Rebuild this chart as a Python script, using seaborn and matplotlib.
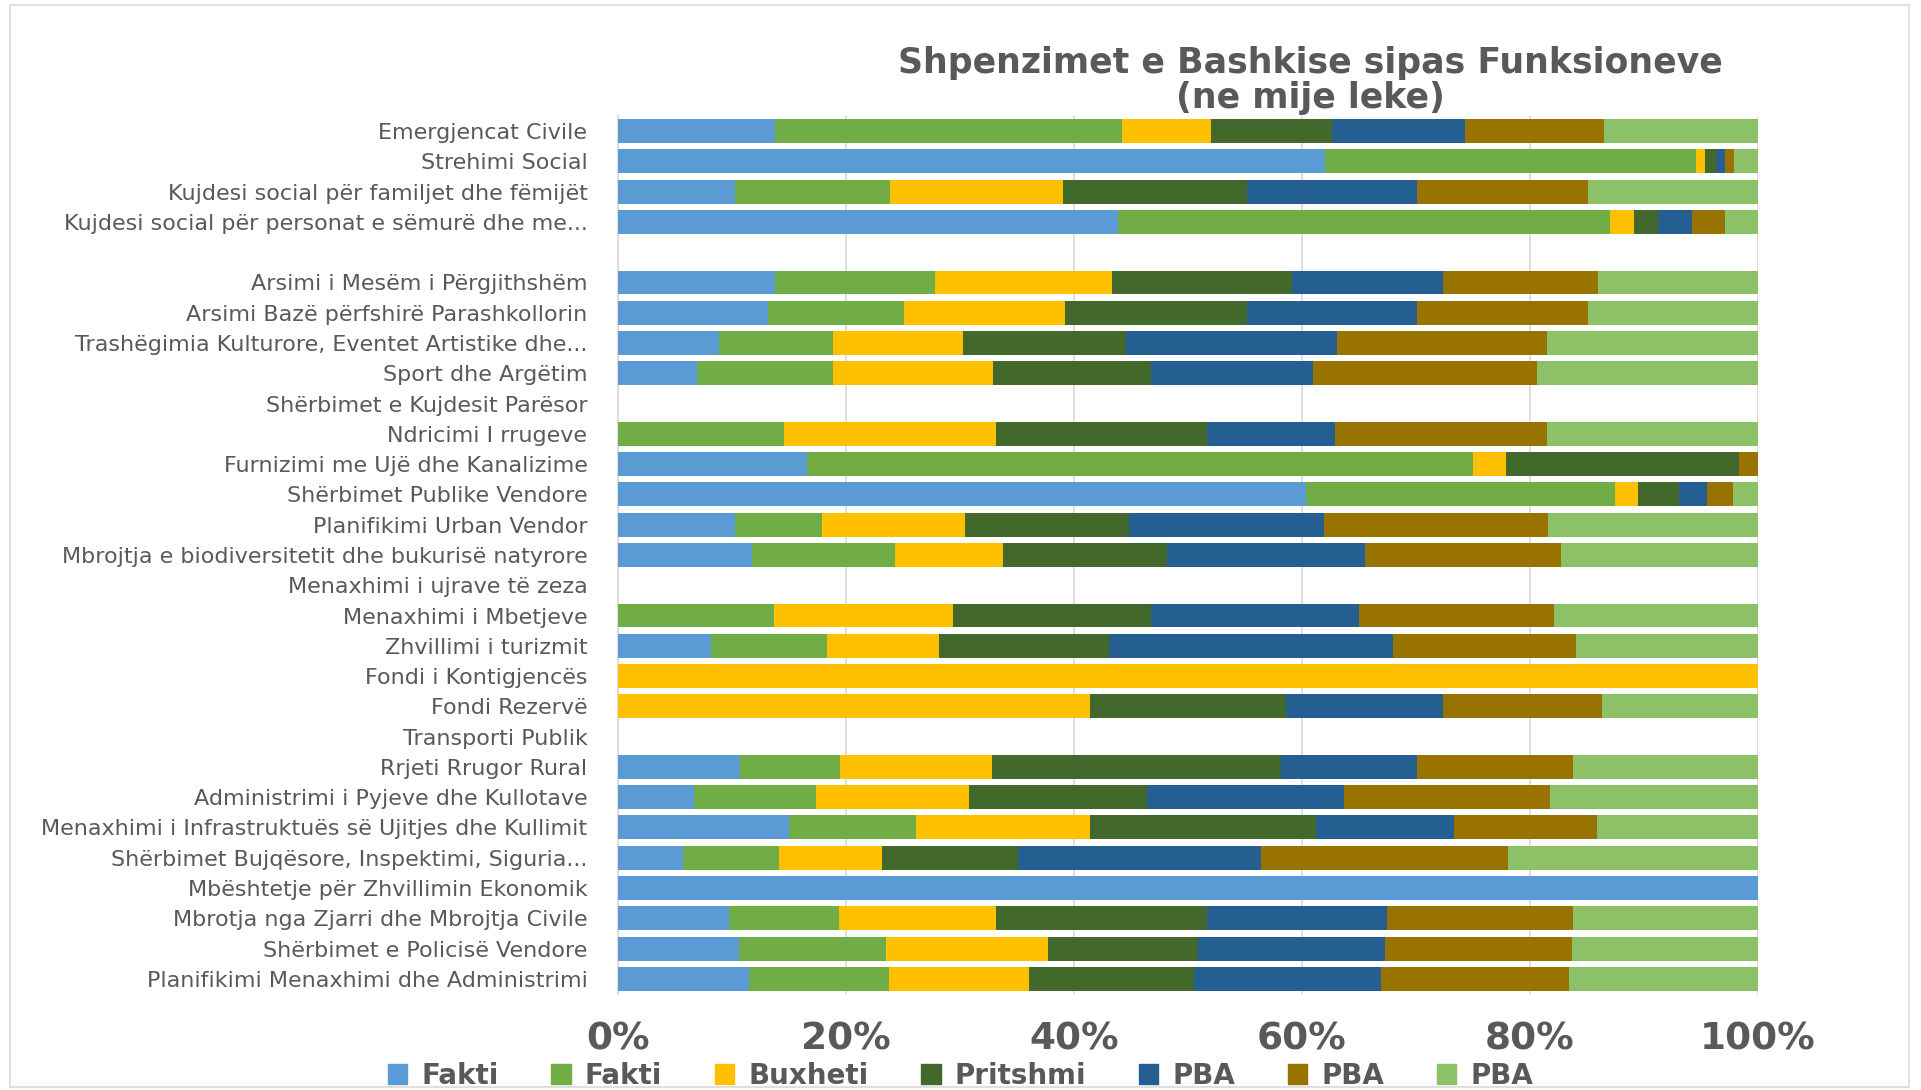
import matplotlib
matplotlib.use("Agg")
import matplotlib.pyplot as plt
import matplotlib.patches as mpatches
import seaborn as sns
import pandas as pd
import numpy as np

# kategorite (nga lart poshte)
kategorite = [
    "Emergjencat Civile",
    "Strehimi Social",
    "Kujdesi social për familjet dhe fëmijët",
    "Kujdesi social për personat e sëmurë dhe me...",
    "",
    "Arsimi i Mesëm i Përgjithshëm",
    "Arsimi Bazë përfshirë Parashkollorin",
    "Trashëgimia Kulturore, Eventet Artistike dhe...",
    "Sport dhe Argëtim",
    "Shërbimet e Kujdesit Parësor",
    "Ndricimi I rrugeve",
    "Furnizimi me Ujë dhe Kanalizime",
    "Shërbimet Publike Vendore",
    "Planifikimi Urban Vendor",
    "Mbrojtja e biodiversitetit dhe bukurisë natyrore",
    "Menaxhimi i ujrave të zeza",
    "Menaxhimi i Mbetjeve",
    "Zhvillimi i turizmit",
    "Fondi i Kontigjencës",
    "Fondi Rezervë",
    "Transporti Publik",
    "Rrjeti Rrugor Rural",
    "Administrimi i Pyjeve dhe Kullotave",
    "Menaxhimi i Infrastruktuës së Ujitjes dhe Kullimit",
    "Shërbimet Bujqësore, Inspektimi, Siguria...",
    "Mbështetje për Zhvillimin Ekonomik",
    "Mbrotja nga Zjarri dhe Mbrojtja Civile",
    "Shërbimet e Policisë Vendore",
    "Planifikimi Menaxhimi dhe Administrimi",
]

# pjeset ne % (lexuar nga grafiku)
fakti_1 = [13.8, 62.0, 10.3, 43.9, 0, 13.8, 13.2, 8.9, 6.9, 0, 0, 16.6, 60.4, 10.3, 11.8,
           0, 0, 8.2, 0, 0, 0, 10.7, 6.7, 15.0, 5.7, 100, 9.7, 10.6, 11.5]
fakti_2 = [30.4, 32.6, 13.6, 43.1, 0, 14.0, 11.9, 10.0, 12.0, 0, 14.6, 58.4, 27.1, 7.6, 12.5,
           0, 13.7, 10.1, 0, 0, 0, 8.8, 10.7, 11.1, 8.4, 0, 9.7, 12.9, 12.3]
buxheti = [7.8, 0.8, 15.1, 2.1, 0, 15.5, 14.1, 11.4, 14.0, 0, 18.6, 2.9, 2.0, 12.5, 9.5,
           0, 15.7, 9.9, 100, 41.4, 0, 13.3, 13.4, 15.3, 9.1, 0, 13.8, 14.2, 12.3]
pritshmi = [10.6, 0.9, 16.2, 2.1, 0, 15.8, 16.0, 14.3, 13.9, 0, 18.5, 20.4, 3.6, 14.4, 14.4,
            0, 17.4, 14.9, 0, 17.2, 0, 25.4, 15.6, 19.8, 11.9, 0, 18.5, 13.2, 14.4]
pba_1 = [11.7, 0.8, 14.9, 3.0, 0, 13.3, 14.9, 18.5, 14.2, 0, 11.2, 0, 2.4, 17.1, 17.3,
         0, 18.2, 24.9, 0, 13.8, 0, 11.9, 17.3, 12.1, 21.3, 0, 15.8, 16.4, 16.4]
pba_2 = [12.2, 0.8, 15.0, 2.9, 0, 13.6, 15.0, 18.4, 19.6, 0, 18.6, 1.7, 2.3, 19.7, 17.2,
         0, 17.1, 16.0, 0, 13.9, 0, 13.7, 18.1, 12.6, 21.7, 0, 16.3, 16.4, 16.5]
pba_3 = [13.5, 2.1, 14.9, 2.9, 0, 14.0, 14.9, 18.5, 19.4, 0, 18.5, 0, 2.2, 18.4, 17.3,
         0, 17.9, 16.0, 0, 13.7, 0, 16.2, 18.2, 14.1, 21.9, 0, 16.2, 16.3, 16.6]

seri_emra = ["Fakti", "Fakti", "Buxheti", "Pritshmi", "PBA", "PBA", "PBA"]
ngjyrat = ["#5B9BD5", "#70AD47", "#FFC000", "#43682B", "#255E91", "#997300", "#8CC168"]

vlerat = np.array([fakti_1, fakti_2, buxheti, pritshmi, pba_1, pba_2, pba_3], dtype=float)
totali = vlerat.sum(axis=0)
totali[totali == 0] = 1
perqindja = vlerat / totali * 100
kumulative = np.cumsum(perqindja, axis=0)

gri = "#595959"
fig = plt.figure(figsize=(19.21, 10.90), dpi=100)
ax = fig.add_axes([0.3217, 0.0881, 0.5934, 0.8055])

# vizatohen nga e fundit tek e para, qe te mbulohen si shtylla te grumbulluara
for i in range(len(seri_emra) - 1, -1, -1):
    df = pd.DataFrame({"kategoria": kategorite, "vlera": kumulative[i]})
    sns.barplot(data=df, x="vlera", y="kategoria", orient="h", color=ngjyrat[i],
                saturation=1, width=0.79, linewidth=0, ax=ax, zorder=3)

ax.set_xlim(0, 100)
ax.set_ylim(len(kategorite) - 0.5, -0.5)
ax.set_xticks([0, 20, 40, 60, 80, 100])
ax.set_xticklabels(["0%", "20%", "40%", "60%", "80%", "100%"])
ax.set_xlabel("")
ax.set_ylabel("")
ax.grid(axis="x", color="#D9D9D9", linewidth=1.2, zorder=0)
ax.set_axisbelow(True)
for s in ["top", "right", "bottom"]:
    ax.spines[s].set_visible(False)
ax.spines["left"].set_color("#D9D9D9")
ax.spines["left"].set_linewidth(1.2)
ax.tick_params(axis="both", length=0)
ax.tick_params(axis="x", pad=20, labelsize=27, labelcolor=gri)
ax.tick_params(axis="y", pad=22, labelsize=16, labelcolor=gri)
for t in ax.get_xticklabels():
    t.set_fontweight("bold")

fig.text(0.682, 0.926, "Shpenzimet e Bashkise sipas Funksioneve\n(ne mije leke)",
         ha="center", va="center", fontsize=25, fontweight="bold", color=gri,
         linespacing=1.05)

dorezat = [mpatches.Patch(color=c, label=l) for c, l in zip(ngjyrat, seri_emra)]
leg = fig.legend(handles=dorezat, loc="center", bbox_to_anchor=(0.5, 0.013), ncol=7,
                 frameon=False, fontsize=20, handlelength=0.7, handleheight=0.7,
                 columnspacing=1.9, handletextpad=0.5)
for t in leg.get_texts():
    t.set_color(gri)
    t.set_fontweight("bold")

fig.patches.append(mpatches.Rectangle((0.005, 0.003), 0.989, 0.992, transform=fig.transFigure,
                                      fill=False, edgecolor="#D9D9D9", linewidth=1.2))

fig.savefig("out.png", dpi=100, facecolor="white")
